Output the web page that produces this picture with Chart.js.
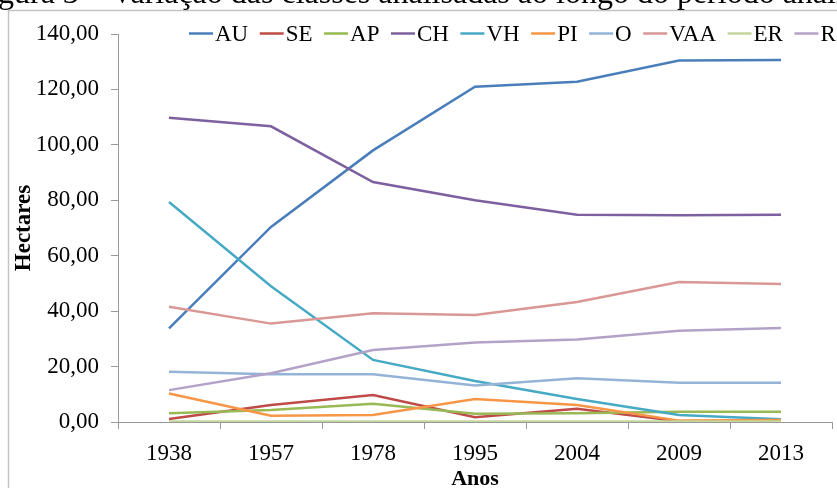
<!DOCTYPE html>
<html><head><meta charset="utf-8">
<script src="https://cdn.jsdelivr.net/npm/chart.js@4.4.0/dist/chart.umd.min.js"></script>
<style>html,body{margin:0;padding:0;background:#fff;overflow:hidden}#wrap{width:837px;height:488px;position:relative}</style>
</head><body><div id="wrap"><canvas id="c" width="837" height="488"></canvas></div>
<script>
// ---- data ----
const years = ['1938','1957','1978','1995','2004','2009','2013'];
const AU  = [33.8, 70.4, 98.0, 121.0, 122.8, 130.4, 130.6];
const SE  = [1.1, 6.1, 9.7, 1.7, 4.8, 0.3, 0.3];
const AP  = [3.2, 4.3, 6.6, 3.0, 3.2, 3.7, 3.7];
const CH  = [109.8, 106.7, 86.6, 80.0, 74.8, 74.6, 74.8];
const VH  = [79.4, 49.0, 22.4, 14.8, 8.3, 2.5, 1.0];
const PI  = [10.3, 2.3, 2.5, 8.3, 6.1, 0.5, 0.7];
const O   = [18.1, 17.2, 17.2, 13.2, 15.8, 14.2, 14.2];
const VAA = [41.6, 35.5, 39.2, 38.6, 43.3, 50.5, 49.8];
const ER  = [0.2, 0.2, 0.2, 0.2, 0.2, 0.2, 0.2];
const R   = [11.5, 17.6, 26.0, 28.7, 29.8, 32.9, 33.9];
const seriesNames = ['AU','SE','AP','CH','VH','PI','O','VAA','ER','R'];
const seriesData  = [AU, SE, AP, CH, VH, PI, O, VAA, ER, R];
const seriesColors = ['#4A7EBB','#BE4B48','#98B954','#7D60A0','#46AAC5','#F79646','#95B3D7','#D99795','#C3D69B','#B3A2C7'];
const yTicks = [0, 20, 40, 60, 80, 100, 120, 140];
const titleText = 'Figura 3 – Variação das classes analisadas ao longo do período analisado';
const xTitle = 'Anos';
const yTitle = 'Hectares';

const SERIF = "'Liberation Serif', 'Times New Roman', serif";
Chart.defaults.font.family = SERIF;
Chart.defaults.color = '#000';

const framePlugin = {
  id: 'frame',
  beforeDraw(chart) {
    const ctx = chart.ctx;
    ctx.save();
    ctx.fillStyle = '#fff';
    ctx.fillRect(0, 0, chart.width, chart.height);
    ctx.strokeStyle = '#c4c4c4';
    ctx.lineWidth = 1.5;
    ctx.beginPath();
    ctx.moveTo(8.5, chart.height + 2);
    ctx.lineTo(8.5, 10.5);
    ctx.lineTo(chart.width + 2, 10.5);
    ctx.stroke();
    ctx.font = '32px ' + SERIF;
    ctx.fillStyle = '#000';
    ctx.textBaseline = 'alphabetic';
    ctx.textAlign = 'left';
    const off = ctx.measureText('Fi').width + 2;
    ctx.fillText(titleText, -off, 3);
    ctx.restore();
  }
};

const legendPlugin = {
  id: 'customLegend',
  afterDraw(chart) {
    const ctx = chart.ctx;
    ctx.save();
    ctx.font = '23px ' + SERIF;
    ctx.textBaseline = 'middle';
    ctx.textAlign = 'left';
    let x = 189;
    const y = 33.5;
    chart.data.datasets.forEach(ds => {
      ctx.strokeStyle = ds.borderColor;
      ctx.lineWidth = 2.5;
      ctx.beginPath();
      ctx.moveTo(x, y);
      ctx.lineTo(x + 24, y);
      ctx.stroke();
      ctx.fillStyle = '#000';
      ctx.fillText(ds.label, x + 26, y + 1);
      x += 26 + ctx.measureText(ds.label).width + 11.5;
    });
    ctx.restore();
  }
};

const datasets = seriesNames.map((name, i) => ({
  label: name,
  data: seriesData[i],
  borderColor: seriesColors[i],
  backgroundColor: seriesColors[i],
  borderWidth: 2.5,
  pointRadius: 0,
  pointHoverRadius: 0,
  tension: 0,
  fill: false,
  order: -i
}));

new Chart(document.getElementById('c'), {
  type: 'line',
  data: { labels: years, datasets },
  plugins: [framePlugin, legendPlugin],
  options: {
    responsive: false,
    animation: false,
    events: [],
    layout: { padding: { left: 0, top: 34, right: 5, bottom: 0 } },
    plugins: { legend: { display: false }, tooltip: { enabled: false } },
    scales: {
      x: {
        type: 'category',
        offset: true,
        grid: { display: true, drawOnChartArea: false, drawTicks: true, tickLength: 7, color: '#9a9a9a', offset: true },
        border: { display: true, color: '#9a9a9a', width: 1 },
        ticks: { font: { size: 23, family: SERIF }, color: '#000', padding: 11, maxRotation: 0, autoSkip: false },
        title: { display: true, text: xTitle, font: { size: 22, weight: 'bold', family: SERIF, lineHeight: 1 }, color: '#000', padding: { top: 0, bottom: -2 } },
        afterFit(scale) { scale.height = 66; }
      },
      y: {
        min: 0, max: 140,
        afterBuildTicks(scale) { scale.ticks = yTicks.map(v => ({ value: v })); },
        grid: { display: true, drawOnChartArea: false, drawTicks: true, tickLength: 7, color: '#9a9a9a' },
        border: { display: true, color: '#9a9a9a', width: 1 },
        ticks: { font: { size: 23, family: SERIF }, color: '#000', padding: 12,
          callback: v => Number(v).toFixed(2).replace('.', ',') },
        title: { display: true, text: yTitle, font: { size: 23, weight: 'bold', family: SERIF, lineHeight: 1 }, color: '#000', padding: { top: 13, bottom: 0 } },
        afterFit(scale) { scale.width = 118; }
      }
    }
  }
});
</script></body></html>
